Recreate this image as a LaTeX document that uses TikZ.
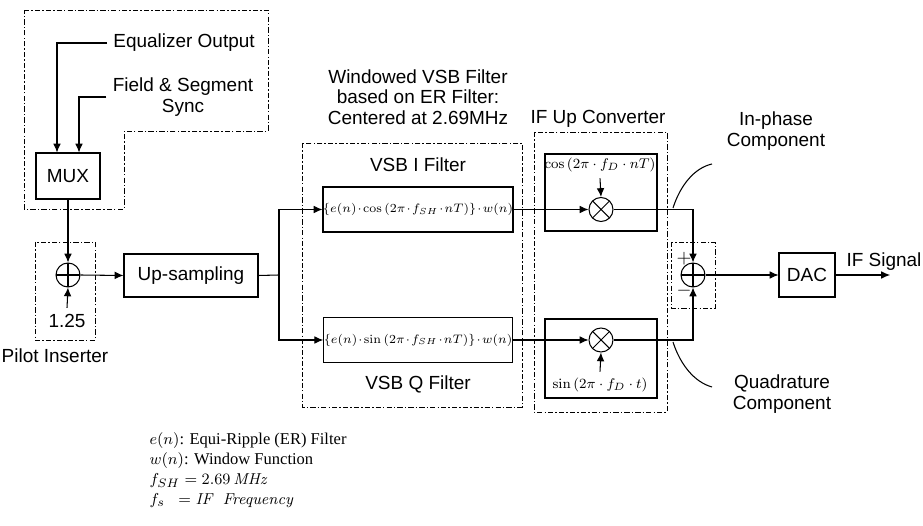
\documentclass[tikz,border=0pt]{standalone}
\usepackage[no-math]{fontspec}
\setmainfont{Liberation Sans}
\newfontfamily\legendfont{Liberation Serif}
\usetikzlibrary{arrows.meta,calc}

\begin{document}
\begin{tikzpicture}[
  x=0.02cm, y=-0.02cm,
  >={Latex[length=5pt,width=4.4pt]},
  font=\fontsize{10.8}{11.8}\selectfont,
  line width=0.6pt,
  block/.style={draw,rectangle,inner sep=0pt},
  mathbox/.style={block,font=\fontsize{7.2}{8.6}\selectfont},
  groupframe/.style={draw,line width=0.5pt,dash pattern=on 3pt off 1.2pt on 0.8pt off 1.2pt},
  adder/.style={draw,circle,inner sep=0pt,minimum size=0.48cm,
    path picture={\draw (path picture bounding box.north)--(path picture bounding box.south)
      (path picture bounding box.west)--(path picture bounding box.east);}},
  mixer/.style={draw,circle,inner sep=0pt,minimum size=0.48cm,
    path picture={\draw ([shift={(45:0.24cm)}]path picture bounding box.center)--([shift={(225:0.24cm)}]path picture bounding box.center)
      ([shift={(135:0.24cm)}]path picture bounding box.center)--([shift={(315:0.24cm)}]path picture bounding box.center);}},
  legend/.style={anchor=west,inner sep=0pt,font=\legendfont\fontsize{9.4}{11}\selectfont}
]
\useasboundingbox (0,0) rectangle (923,526);

% Dash-dot frames of the functional groups.
\draw[groupframe] (24,10) -- (268,10) -- (268,131) -- (124,131) -- (124,209) -- (24,209) -- cycle;
\draw[groupframe] (35,242) rectangle (95,340);
\draw[groupframe] (302,143) rectangle (522,407);
\draw[groupframe] (534,132) rectangle (667,412);
\draw[groupframe] (671,242) rectangle (715,308);
\draw (545,154) rectangle (657,231);
\draw (545,319) rectangle (657,398);

% Input side: multiplexer and pilot insertion.
\node[block,minimum width=1.28cm,minimum height=0.92cm] (mux) at (68,176) {MUX};
\node[anchor=west] (eqo) at (107,43) {Equalizer Output};
\node[align=center] (fss) at (183,97) {Field \& Segment\\Sync};
\draw[->] (eqo.west) -| ($(mux.north)+(-11,0)$);
\draw[->] (fss.west) -| ($(mux.north)+(11,0)$);

\node[adder] (add1) at (68,275) {};
\node (pilotval) at (67,321) {1.25};
\node (pilotlbl) at (55,356) {Pilot Inserter};
\draw[->] (mux.south) -- (add1.north);
\draw[->] (pilotval.north) -- (add1.south);

\node[block,minimum width=2.68cm,minimum height=0.86cm] (ups) at (191,275.5) {Up-sampling};
\draw[->] (add1.east) -- (ups.west);

% Windowed VSB filter pair.
\node[align=center] (vsbtitle) at (418,97) {Windowed VSB Filter\\based on ER Filter:\\Centered at 2.69MHz};
\node (vsbilbl) at (418,165) {VSB I Filter};
\node (vsbqlbl) at (418,384) {VSB Q Filter};
\node[mathbox,minimum width=3.76cm,minimum height=0.9cm] (vsbi) at (418,209.5)
  {$\medmuskip=1.5mu \{e(n)\cdot\cos\left(2\pi\cdot f_{SH}\cdot nT\right)\}\cdot w(n)$};
\node[mathbox,minimum width=3.76cm,minimum height=0.9cm] (vsbq) at (418,340)
  {$\medmuskip=1.5mu \{e(n)\cdot\sin\left(2\pi\cdot f_{SH}\cdot nT\right)\}\cdot w(n)$};
\coordinate (split) at (279,275);
\draw (ups.east) -- (split);
\draw[->] (split) |- (vsbi.west);
\draw[->] (split) |- (vsbq.west);

% IF up converter.
\node (ifconvlbl) at (598,119) {IF Up Converter};
\node[mixer] (muli) at (601,209.5) {};
\node[mixer] (mulq) at (601,340) {};
\node[font=\fontsize{8}{9.6}\selectfont] (cosf) at (600,165) {$\cos\left(2\pi\cdot f_{D}\cdot nT\right)$};
\node[font=\fontsize{8}{9.6}\selectfont] (sinf) at (600,385) {$\sin\left(2\pi\cdot f_{D}\cdot t\right)$};
\draw[->] (cosf.south) -- (muli.north);
\draw[->] (sinf.north) -- (mulq.south);
\draw[->] (vsbi.east) -- (muli.west);
\draw[->] (vsbq.east) -- (mulq.west);

% Combining the two branches.
\node[adder] (add2) at (693,275) {};
\node (plus) at (684,259) {$+$};
\node (minus) at (684,291) {$-$};
\draw[->] (muli.east) -| (add2.north);
\draw[->] (mulq.east) -| (add2.south);
\draw (673,208) .. controls (680,186) and (694,168) .. (712,164);
\draw (673,342) .. controls (680,364) and (694,382) .. (712,387);
\node[align=center] (inphase) at (776,131) {In-phase\\Component};
\node[align=center] (quad) at (782,394) {Quadrature\\Component};

\node[block,minimum width=1.12cm,minimum height=0.88cm] (dac) at (807,275) {DAC};
\coordinate (ifout) at (890,275);
\node (ifsig) at (884,262) {IF Signal};
\draw[->] (add2.east) -- (dac.west);
\draw[->] (dac.east) -- (ifout);

% Legend.
\node[legend] (lg1) at (149,441) {$e(n)$: Equi-Ripple (ER) Filter};
\node[legend] (lg2) at (149,461) {$w(n)$: Window~Function};
\node[legend] (lg3) at (149,481) {$f_{SH}=2.69\,\mathit{MHz}$};
\node[legend] (lg4) at (149,501) {$f_{s}\;\;= \mathit{IF\ \ Frequency}$};
\end{tikzpicture}
\end{document}
